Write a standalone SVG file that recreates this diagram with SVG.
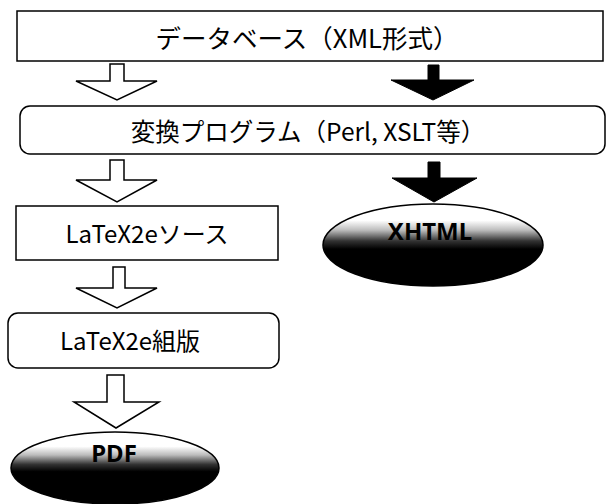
<svg xmlns="http://www.w3.org/2000/svg" width="607" height="504" viewBox="0 0 607 504">
<defs>
<style>
.box{fill:#fff;stroke:#000;stroke-width:1.5}
.lbl{font-family:"Noto Sans CJK JP","Noto Sans",sans-serif;font-size:24px;fill:#000;text-anchor:middle;dominant-baseline:central}
.out{font-family:"Noto Sans","Noto Sans CJK JP",sans-serif;font-size:24px;font-weight:bold;fill:#000;text-anchor:middle}
.hollow{fill:#fff;stroke:#000;stroke-width:1.5;stroke-linejoin:miter}
.solid{fill:#000;stroke:#000;stroke-width:1}
.ell{fill:url(#g);stroke:#000;stroke-width:1.5}
</style>
<linearGradient id="g" x1="0" y1="0" x2="0" y2="1">
<stop offset="0" stop-color="#fff"/>
<stop offset="0.2" stop-color="#fff"/>
<stop offset="0.32" stop-color="#bbb"/>
<stop offset="0.45" stop-color="#333"/>
<stop offset="0.55" stop-color="#000"/>
<stop offset="1" stop-color="#000"/>
</linearGradient>
</defs>
<g id="connectors">
<polygon class="hollow" points="110,64 124,64 124,81 157,81 117,100 76,81 110,81"/>
<polygon class="hollow" points="110,160 124,160 124,180 157,180 117,202 76,180 110,180"/>
<polygon class="hollow" points="113,267 125,267 125,288 157,288 117,308 76,288 113,288"/>
<polygon class="hollow" points="107,375 124,375 124,402 159,402 116,428 74,402 107,402"/>
<polygon class="solid" points="428,65 439,65 439,80 474,80 433,100 391,80 428,80"/>
<polygon class="solid" points="428,162 440,162 440,178 477,178 434,202 392,178 428,178"/>
</g>
<g id="database">
<rect class="box" x="17" y="11" width="586" height="50"/>
<text class="lbl" x="307" y="36" style="font-size:25.5px">データベース（XML形式）</text>
</g>
<g id="converter">
<rect class="box" x="20" y="106" width="585" height="48" rx="10"/>
<text class="lbl" x="308" y="130" style="font-size:24.5px">変換プログラム（Perl, XSLT等）</text>
</g>
<g id="latex-source">
<rect class="box" x="16" y="206" width="262" height="54"/>
<text class="lbl" x="147" y="232">LaTeX2eソース</text>
</g>
<g id="latex-typeset">
<rect class="box" x="8" y="313" width="271" height="55" rx="10"/>
<text class="lbl" x="130" y="339">LaTeX2e組版</text>
</g>
<g id="xhtml">
<ellipse class="ell" cx="433" cy="245" rx="110" ry="41"/>
<text class="out" x="430" y="240">XHTML</text>
</g>
<g id="pdf">
<ellipse class="ell" cx="115" cy="468" rx="104" ry="36"/>
<text class="out" x="114" y="462">PDF</text>
</g>
</svg>
